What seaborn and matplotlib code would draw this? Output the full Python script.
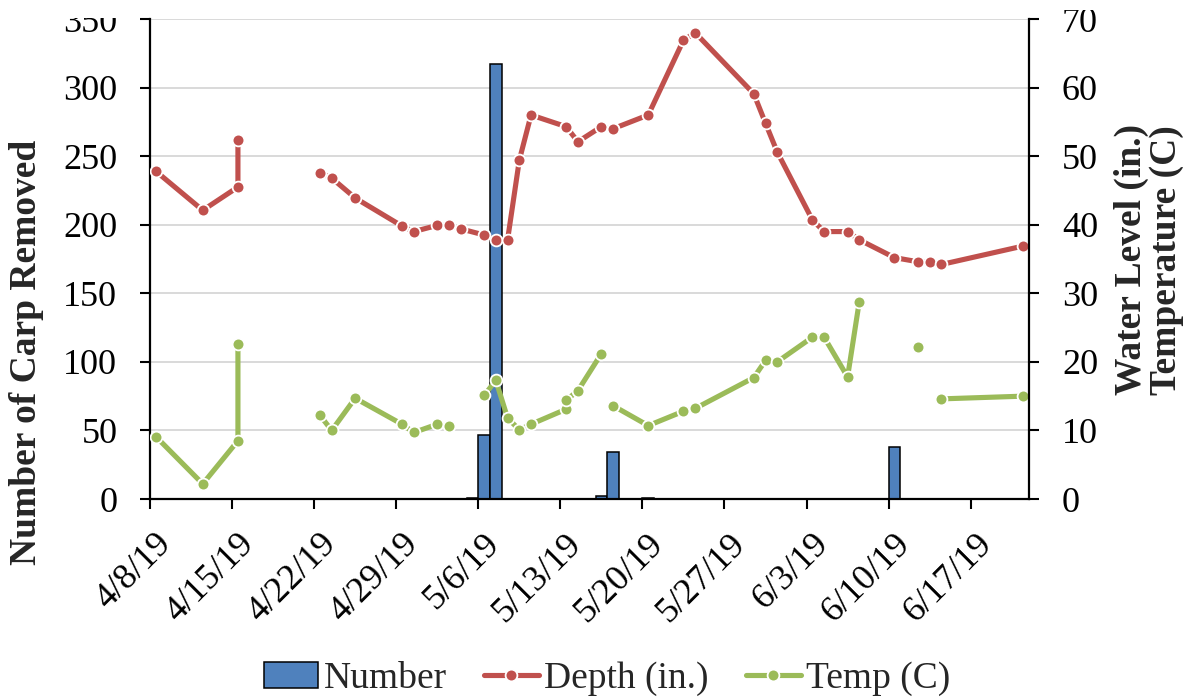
import matplotlib
matplotlib.use("Agg")
import matplotlib.pyplot as plt
import matplotlib.transforms as mtransforms
import numpy as np
import pandas as pd
import seaborn as sns
from matplotlib.lines import Line2D
from matplotlib.patches import Patch

# Field readings; repeated dates hold a second reading from the same day,
# None marks a gap in the record.
reading_dates = [
    "2019-04-08", "2019-04-12", "2019-04-15", "2019-04-15", "2019-04-18",
    "2019-04-22", "2019-04-23", "2019-04-25", "2019-04-29", "2019-04-30",
    "2019-05-02", "2019-05-03", "2019-05-04", "2019-05-06", "2019-05-07",
    "2019-05-08", "2019-05-09", "2019-05-10", "2019-05-13", "2019-05-13",
    "2019-05-14", "2019-05-16", "2019-05-17", "2019-05-17", "2019-05-20",
    "2019-05-23", "2019-05-24", "2019-05-29", "2019-05-30", "2019-05-31",
    "2019-06-03", "2019-06-04", "2019-06-06", "2019-06-07", "2019-06-10",
    "2019-06-12", "2019-06-13", "2019-06-14", "2019-06-21",
]
depth_in = [
    47.8, 42.1, 45.5, 52.3, None,
    47.6, 46.8, 43.9, 39.8, 39.0,
    39.9, 39.9, 39.4, 38.5, 37.7,
    37.8, 49.4, 56.0, 54.3, 54.3,
    52.1, 54.3, 54.0, 54.0, 56.0,
    66.9, 68.0, 59.1, 54.8, 50.6,
    40.7, 39.0, 39.0, 37.8, 35.2,
    34.6, 34.5, 34.2, 36.9,
]
temp_c = [
    9.1, 2.2, 8.5, 22.6, None,
    12.2, 10.0, 14.7, 10.9, 9.7,
    10.9, 10.6, None, 15.1, 17.3,
    11.8, 10.1, 10.9, 13.1, 14.4,
    15.8, 21.2, None, 13.6, 10.7,
    12.8, 13.2, 17.7, 20.2, 20.0,
    23.6, 23.6, 17.8, 28.8, None,
    22.2, None, 14.6, 15.0,
]

# Carp removed per day
catch_dates = ["2019-05-05", "2019-05-06", "2019-05-07", "2019-05-16",
               "2019-05-17", "2019-05-20", "2019-06-10"]
carp_removed = [1, 47, 317, 2, 34, 1, 38]

tick_labels = ["4/8/19", "4/15/19", "4/22/19", "4/29/19", "5/6/19", "5/13/19",
               "5/20/19", "5/27/19", "6/3/19", "6/10/19", "6/17/19"]

BLUE = "#4F81BD"
RED = "#C0504D"
GREEN = "#9BBB59"

sns.set_theme(style="white")
plt.rcParams["font.family"] = ["Liberation Serif", "DejaVu Serif"]

start = pd.Timestamp("2019-04-08")


def day_center(dates):
    """Position of each date as the middle of its day slot."""
    return np.asarray((pd.to_datetime(dates) - start).days, dtype=float) + 0.5


W, H = 1197, 699
fig = plt.figure(figsize=(W / 100, H / 100), dpi=100)
ax = fig.add_axes([150 / W, 1 - 499 / H, (1029.3 - 150) / W, (499 - 19) / H])

# Daily catch as bars on the left axis
sns.barplot(x=day_center(catch_dates), y=carp_removed, native_scale=True,
            width=1.0, color=BLUE, saturation=1, edgecolor="black",
            linewidth=1.1, ax=ax, zorder=2)
ax.set_xlim(0, 75)
ax.set_ylim(0, 350)
ax.set_yticks(np.arange(0, 351, 50))
ax.set_xticks(np.arange(0, 71, 7))
ax.set_xticklabels(tick_labels)
ax.set_xlabel("")
ax.set_ylabel("")
ax.yaxis.grid(True, color="#D9D9D9", linewidth=1.4)
ax.set_axisbelow(True)

# Water level and temperature on the right axis
ax2 = ax.twinx()


def draw_series(values, color):
    df = pd.DataFrame({"x": day_center(reading_dates),
                       "y": pd.to_numeric(pd.Series(values), errors="coerce")})
    df["run"] = df["y"].isna().cumsum()
    df = df.dropna()
    sns.lineplot(data=df, x="x", y="y", units="run", estimator=None,
                 sort=False, color=color, linewidth=3.7, marker="o",
                 markersize=8.5, markeredgecolor="white",
                 markeredgewidth=1.3, ax=ax2, legend=False)


draw_series(depth_in, RED)
draw_series(temp_c, GREEN)
ax2.set_ylim(0, 70)
ax2.set_xlim(0, 75)
ax2.set_yticks(np.arange(0, 71, 10))
ax2.set_xlabel("")
ax2.set_ylabel("")

for a in (ax, ax2):
    a.spines["top"].set_visible(False)
    for s in a.spines.values():
        s.set_linewidth(1.6)
        s.set_color("black")
ax2.spines["left"].set_visible(False)
ax2.spines["bottom"].set_visible(False)
ax.spines["right"].set_visible(False)

tick_kw = dict(direction="out", length=7.5, width=1.5, color="black",
               labelsize=26, labelcolor="black", pad=16)
ax.tick_params(axis="y", left=True, **tick_kw)
ax.tick_params(axis="x", bottom=True, **{**tick_kw, "pad": 13})
ax2.tick_params(axis="y", right=True, **tick_kw)

shift = mtransforms.ScaledTranslation(0.05, 0, fig.dpi_scale_trans)
for lbl in ax.get_xticklabels():
    lbl.set_rotation(45)
    lbl.set_ha("right")
    lbl.set_va("top")
    lbl.set_rotation_mode("anchor")
    lbl.set_transform(lbl.get_transform() + shift)

# The topmost value labels are trimmed by the chart's upper edge
for labels, top_px in ((ax.get_yticklabels(), 18), (ax2.get_yticklabels(), 10)):
    clip = mtransforms.Bbox([[0, 0], [W, H - top_px]])
    for lbl in labels:
        lbl.set_clip_box(clip)
        lbl.set_clip_on(True)

fig.text(27 / W, 1 - 352 / H, "Number of Carp Removed", rotation=90,
         fontsize=27, fontweight="bold", ha="center", va="center")
fig.text(1149 / W, 1 - 395 / H, "Water Level (in.)\nTemperature (C)",
         rotation=90, fontsize=27, fontweight="bold", ha="center",
         va="bottom", multialignment="left", linespacing=1.0)

handles = [
    Patch(facecolor=BLUE, edgecolor="black", linewidth=1.1),
    Line2D([], [], color=RED, linewidth=3.7, marker="o", markersize=8.5,
           markeredgecolor="white", markeredgewidth=1.3),
    Line2D([], [], color=GREEN, linewidth=3.7, marker="o", markersize=8.5,
           markeredgecolor="white", markeredgewidth=1.3),
]
fig.legend(handles, ["Number", "Depth (in.)", "Temp (C)"], loc="center",
           bbox_to_anchor=(607 / W, 1 - 679 / H), ncol=3, frameon=False,
           fontsize=27, handlelength=1.45, handletextpad=0.15,
           columnspacing=1.0, numpoints=1, borderpad=0)

fig.savefig("out.png", dpi=100)
